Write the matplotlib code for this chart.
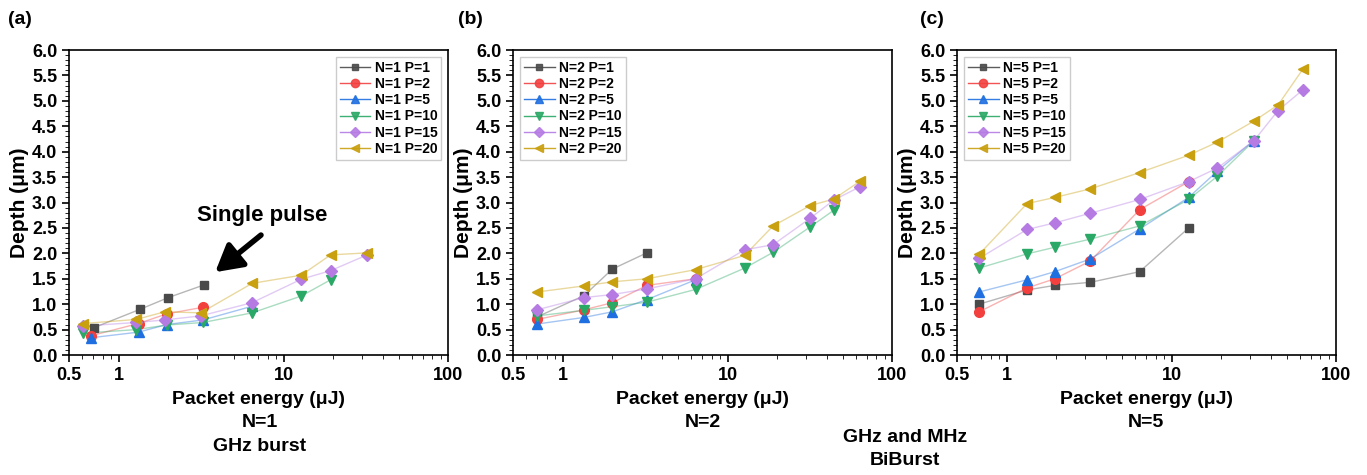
import matplotlib
matplotlib.use('Agg')
import matplotlib.pyplot as plt
from matplotlib.ticker import MultipleLocator, FixedLocator, FixedFormatter

plt.rcParams['font.family'] = ['Liberation Sans', 'DejaVu Sans']
plt.rcParams['font.weight'] = 'bold'

# panel (a) N=1
a_x1 = [0.71, 1.35, 2.0, 3.3]
a_y1 = [0.54, 0.90, 1.13, 1.38]
a_x2 = [0.68, 1.32, 1.96, 3.25]
a_y2 = [0.38, 0.62, 0.81, 0.94]
a_x5 = [0.68, 1.32, 1.96, 3.25, 6.45]
a_y5 = [0.34, 0.45, 0.60, 0.69, 0.96]
a_x10 = [0.61, 1.28, 1.96, 3.25, 6.45, 12.8, 19.3]
a_y10 = [0.43, 0.50, 0.59, 0.64, 0.83, 1.16, 1.48]
a_x15 = [0.61, 1.28, 1.9, 3.15, 6.45, 12.8, 19.3, 32.2]
a_y15 = [0.57, 0.64, 0.69, 0.77, 1.03, 1.49, 1.66, 1.97]
a_x20 = [0.61, 1.28, 1.9, 3.15, 6.45, 12.8, 19.3, 32.2]
a_y20 = [0.62, 0.70, 0.85, 0.83, 1.41, 1.57, 1.97, 2.01]

# panel (b) N=2
b_x = [0.70, 1.35, 2.0, 3.24, 6.4, 12.7, 18.9, 31.7, 44.2, 63.6]
b_y1 = [0.75, 1.17, 1.69, 2.01]
b_y2 = [0.70, 0.89, 1.03, 1.37, 1.50]
b_y5 = [0.61, 0.74, 0.85, 1.09, 1.48]
b_y10 = [0.77, 0.88, 0.95, 1.04, 1.29, 1.71, 2.02, 2.52, 2.85]
b_y15 = [0.89, 1.13, 1.19, 1.30, 1.50, 2.07, 2.17, 2.69, 3.05, 3.31]
b_y20 = [1.24, 1.36, 1.44, 1.50, 1.68, 1.96, 2.54, 2.94, 3.07, 3.42]

# panel (c) N=5
c_x = [0.68, 1.33, 1.96, 3.22, 6.41, 12.7, 19.0, 31.5, 44.3, 62.8]
c_y1 = [1.00, 1.28, 1.37, 1.43, 1.64, 2.50]
c_y2 = [0.85, 1.32, 1.50, 1.85, 2.86, 3.41]
c_y5 = [1.24, 1.48, 1.64, 1.89, 2.48, 3.10, 3.62, 4.22]
c_y10 = [1.71, 1.99, 2.12, 2.28, 2.54, 3.06, 3.52, 4.21]
c_y15 = [1.90, 2.47, 2.60, 2.79, 3.06, 3.41, 3.68, 4.21, 4.81, 5.22]
c_y20 = [1.98, 2.98, 3.10, 3.27, 3.59, 3.93, 4.19, 4.60, 4.92, 5.63]

pulses = [1, 2, 5, 10, 15, 20]
colors = ['#4a4a4a', '#f2403f', '#1f6fe0', '#2aa865', '#b57be3', '#c9a010']
markers = ['s', 'o', '^', 'v', 'D', '<']
msizes = [6, 7, 7, 7, 6, 7]

fig = plt.figure(figsize=(13.67, 4.75), dpi=100)
lefts = [0.0505, 0.3753, 0.7001]
axes = [fig.add_axes([l, 0.2526, 0.2775, 0.642]) for l in lefts]

panels = [
    ('N=1', [a_x1, a_x2, a_x5, a_x10, a_x15, a_x20], [a_y1, a_y2, a_y5, a_y10, a_y15, a_y20], 'upper right'),
    ('N=2', [b_x] * 6, [b_y1, b_y2, b_y5, b_y10, b_y15, b_y20], 'upper left'),
    ('N=5', [c_x] * 6, [c_y1, c_y2, c_y5, c_y10, c_y15, c_y20], 'upper left'),
]

for ax, (n, xs, ys, loc) in zip(axes, panels):
    for i, p in enumerate(pulses):
        x = xs[i][:len(ys[i])]
        ax.plot(x, ys[i], color=colors[i], alpha=0.4, lw=1, zorder=2)
        ax.plot(x, ys[i], ls='none', marker=markers[i], ms=msizes[i],
                color=colors[i], zorder=3)
        ax.plot([], [], color=colors[i], lw=1, alpha=0.9, marker=markers[i], ms=msizes[i] - 1,
                markerfacecolor=colors[i], markeredgecolor=colors[i],
                label=f'{n} P={p}')
    ax.set_xscale('log')
    ax.set_xlim(0.5, 100)
    ax.set_ylim(0, 6)
    ax.xaxis.set_major_locator(FixedLocator([0.5, 1, 10, 100]))
    ax.xaxis.set_major_formatter(FixedFormatter(['0.5', '1', '10', '100']))
    ax.yaxis.set_major_locator(MultipleLocator(0.5))
    ax.yaxis.set_minor_locator(MultipleLocator(0.1))
    ax.yaxis.set_major_formatter(plt.FuncFormatter(lambda v, _: f'{v:.1f}'))
    ax.tick_params(labelsize=13, width=1.2, length=5)
    ax.tick_params(which='minor', length=3)
    for s in ax.spines.values():
        s.set_linewidth(1.2)
    ax.set_ylabel('Depth (μm)', fontsize=15, fontweight='bold', labelpad=2)
    ax.set_xlabel('Packet energy (μJ)', fontsize=14, fontweight='bold', labelpad=5)
    leg = ax.legend(loc=loc, fontsize=10, handlelength=2.2, handletextpad=0.3,
                    labelspacing=0.15, borderpad=0.3, fancybox=False,
                    framealpha=1, edgecolor='#cccccc')
    for t in leg.get_texts():
        t.set_fontweight('bold')

# panel captions
fig.text(0.006, 0.96, '(a)', fontsize=14, fontweight='bold', ha='left', va='center')
fig.text(0.335, 0.96, '(b)', fontsize=14, fontweight='bold', ha='left', va='center')
fig.text(0.673, 0.96, '(c)', fontsize=14, fontweight='bold', ha='left', va='center')

fig.text(0.190, 0.110, 'N=1', fontsize=14, fontweight='bold', ha='center', va='center')
fig.text(0.190, 0.060, 'GHz burst', fontsize=14, fontweight='bold', ha='center', va='center')
fig.text(0.514, 0.110, 'N=2', fontsize=14, fontweight='bold', ha='center', va='center')
fig.text(0.838, 0.110, 'N=5', fontsize=14, fontweight='bold', ha='center', va='center')
fig.text(0.662, 0.080, 'GHz and MHz', fontsize=14, fontweight='bold', ha='center', va='center')
fig.text(0.662, 0.030, 'BiBurst', fontsize=14, fontweight='bold', ha='center', va='center')

# single pulse annotation
axes[0].text(7.4, 2.74, 'Single pulse', fontsize=16, fontweight='bold', ha='center', va='center')
axes[0].annotate('', xy=(3.85, 1.63), xytext=(7.3, 2.36),
                 arrowprops=dict(arrowstyle='-|>,head_width=0.45,head_length=0.8',
                                 lw=4, color='black', mutation_scale=20,
                                 shrinkA=0, shrinkB=0))

fig.savefig('out.png', dpi=100)
